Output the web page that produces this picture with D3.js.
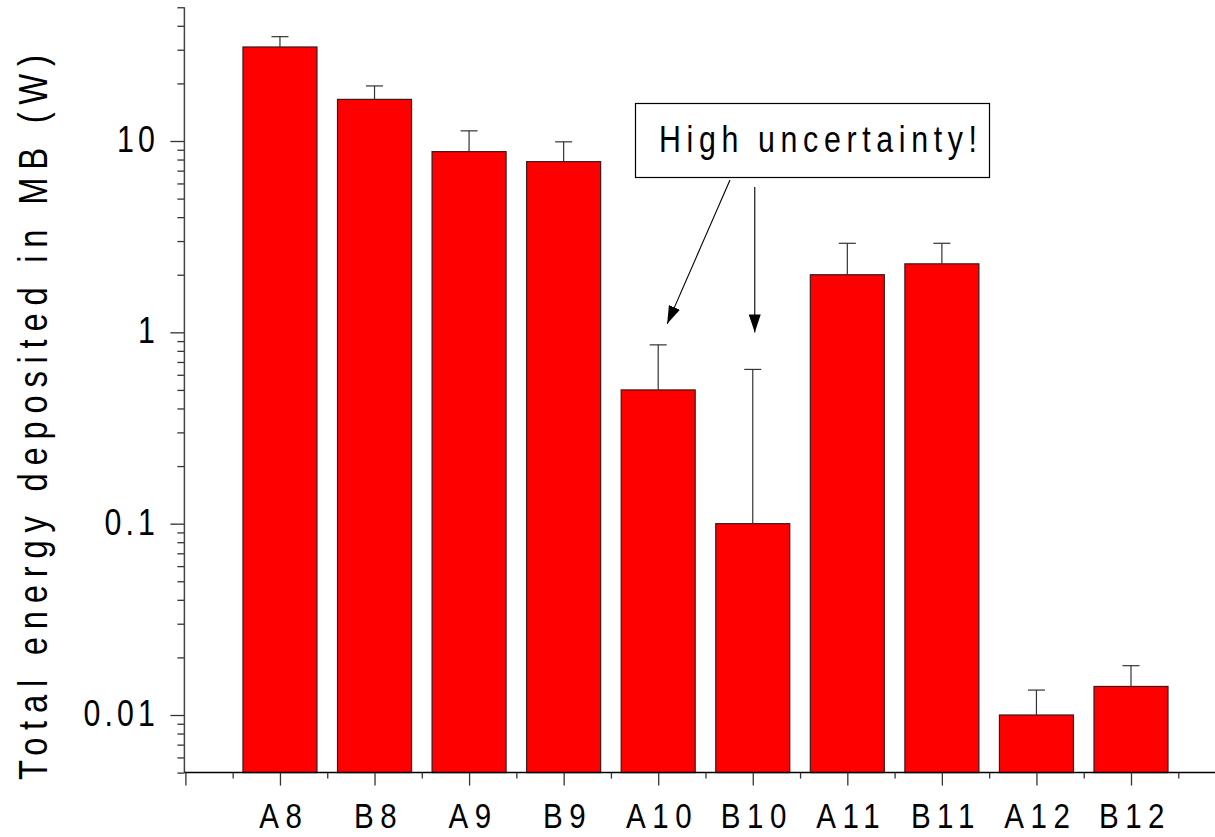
<!DOCTYPE html>
<html>
<head>
<meta charset="utf-8">
<script src="https://cdn.jsdelivr.net/npm/d3@7"></script>
<style>
  body { margin: 0; background: #fff; }
  text { font-family: "Liberation Sans", Arial, sans-serif; fill: #000; }
</style>
</head>
<body>
<div id="chart"></div>
<script>
// bar categories
const categories = ["A8", "B8", "A9", "B9", "A10", "B10", "A11", "B11", "A12", "B12"];
// total energy (W), log axis
const values = [31, 16.5, 8.8, 7.8, 0.5, 0.1, 2.0, 2.28, 0.01, 0.0141];
// upper error amounts
const errors = [4.1, 2.9, 2.5, 2.1, 0.36, 0.54, 0.92, 0.64, 0.0035, 0.004];
const yTicks = [0.01, 0.1, 1, 10];
const yTickLabels = ["0.01", "0.1", "1", "10"];
const annotation = "High uncertainty!";
const yTitle = "Total energy deposited in MB (W)";

const width = 1215, height = 837;
const narrow = 0.82; // the original font is a condensed sans

const svg = d3.select("#chart").append("svg")
  .attr("width", width)
  .attr("height", height);

// log y scale: 10 -> 141px, 0.01 -> 715px
const decade = (715 - 141) / 3;
const y = d3.scaleLog()
  .domain([0.005, 50])
  .range([715 + Math.log10(2) * decade, 141 - Math.log10(5) * decade]);

const x = d3.scaleLinear()
  .domain([0, 11])
  .range([185.4, 185.4 + 11 * 94.56]);

const axisY = y(0.005);
const barW = 74;

// bars
svg.selectAll("rect.bar")
  .data(values)
  .join("rect")
  .attr("class", "bar")
  .attr("x", (d, i) => x(i + 1) - barW / 2)
  .attr("y", d => y(d))
  .attr("width", barW)
  .attr("height", d => axisY - y(d))
  .attr("fill", "#ff0000")
  .attr("stroke", "#3a1a1a")
  .attr("stroke-width", 1.2);

// error bars (upper only)
const eb = svg.append("g").attr("stroke", "#333").attr("stroke-width", 1.2);
values.forEach((v, i) => {
  const cx = x(i + 1);
  const top = y(v + errors[i]);
  eb.append("line").attr("x1", cx).attr("x2", cx).attr("y1", y(v)).attr("y2", top);
  eb.append("line").attr("x1", cx - 8.5).attr("x2", cx + 8.5).attr("y1", top).attr("y2", top);
});

// y axis: majors + minors
const minorY = [];
[0.001, 0.01, 0.1, 1, 10].forEach(p => {
  for (let k = 2; k <= 9; k++) {
    const v = p * k;
    if (v >= 0.005 && v <= 50) minorY.push(v);
  }
});
const gy = svg.append("g").attr("transform", `translate(${x(0) - 1},0)`);
gy.append("g")
  .call(d3.axisLeft(y).tickValues(minorY).tickSize(7).tickFormat(""))
  .call(g => g.select(".domain").remove());
gy.append("g")
  .call(d3.axisLeft(y).tickValues(yTicks).tickSize(14).tickFormat(""))
  .call(g => g.select(".domain").remove());
gy.append("line")
  .attr("x1", 0).attr("x2", 0)
  .attr("y1", y(50)).attr("y2", axisY)
  .attr("stroke", "#444").attr("stroke-width", 1.5);

// y tick labels, condensed
svg.selectAll("text.ylab")
  .data(yTicks)
  .join("text")
  .attr("class", "ylab")
  .attr("transform", d => `translate(159,${y(d) + 11}) scale(${narrow},1)`)
  .attr("text-anchor", "end")
  .attr("font-size", 37)
  .attr("letter-spacing", 5)
  .text((d, i) => yTickLabels[i]);

// x axis
const gx = svg.append("g").attr("transform", `translate(0,${axisY})`);
gx.append("line")
  .attr("x1", x(0) - 1).attr("x2", width)
  .attr("stroke", "#000").attr("stroke-width", 1.5);
gx.append("g")
  .call(d3.axisBottom(x).tickValues(d3.range(0.5, 11, 1)).tickSize(6).tickFormat(""))
  .call(g => g.select(".domain").remove());
gx.append("g")
  .call(d3.axisBottom(x).tickValues(d3.range(0, 12, 1)).tickSize(13).tickFormat(""))
  .call(g => g.select(".domain").remove());

svg.selectAll(".tick line").attr("stroke", "#333").attr("stroke-width", 1.3);

// x tick labels, condensed
svg.selectAll("text.xlab")
  .data(categories)
  .join("text")
  .attr("class", "xlab")
  .attr("transform", (d, i) => `translate(${x(i + 1) + 4},828) scale(${narrow},1)`)
  .attr("text-anchor", "middle")
  .attr("font-size", 36)
  .attr("letter-spacing", 8)
  .text(d => d);

// y axis title
svg.append("text")
  .attr("transform", `translate(47,780) rotate(-90) scale(${narrow},1)`)
  .attr("font-size", 40)
  .attr("textLength", 725 / narrow)
  .attr("lengthAdjust", "spacing")
  .text(yTitle);

// annotation box + arrows
const ann = svg.append("g");
ann.append("rect")
  .attr("x", 635.5).attr("y", 103.5)
  .attr("width", 354).attr("height", 74)
  .attr("fill", "#fff").attr("stroke", "#000").attr("stroke-width", 1.2);
ann.append("text")
  .attr("transform", `translate(659,152) scale(${narrow},1)`)
  .attr("font-size", 37)
  .attr("textLength", 318 / narrow)
  .attr("lengthAdjust", "spacing")
  .text(annotation);

svg.append("defs").append("marker")
  .attr("id", "head")
  .attr("viewBox", "0 0 18 12")
  .attr("refX", 18).attr("refY", 6)
  .attr("markerWidth", 18).attr("markerHeight", 12)
  .attr("markerUnits", "userSpaceOnUse")
  .attr("orient", "auto")
  .append("path").attr("d", "M0,0 L18,6 L0,12 Z").attr("fill", "#000");

const arrows = [
  { x1: 730, y1: 180, x2: x(5) + 9, y2: y(values[4] + errors[4]) - 21 },
  { x1: x(6) + 2, y1: 187, x2: x(6) + 2, y2: y(values[5] + errors[5]) - 37 }
];
ann.selectAll("line.arrow")
  .data(arrows)
  .join("line")
  .attr("class", "arrow")
  .attr("x1", d => d.x1).attr("y1", d => d.y1)
  .attr("x2", d => d.x2).attr("y2", d => d.y2)
  .attr("stroke", "#000").attr("stroke-width", 1.1)
  .attr("marker-end", "url(#head)");
</script>
</body>
</html>
